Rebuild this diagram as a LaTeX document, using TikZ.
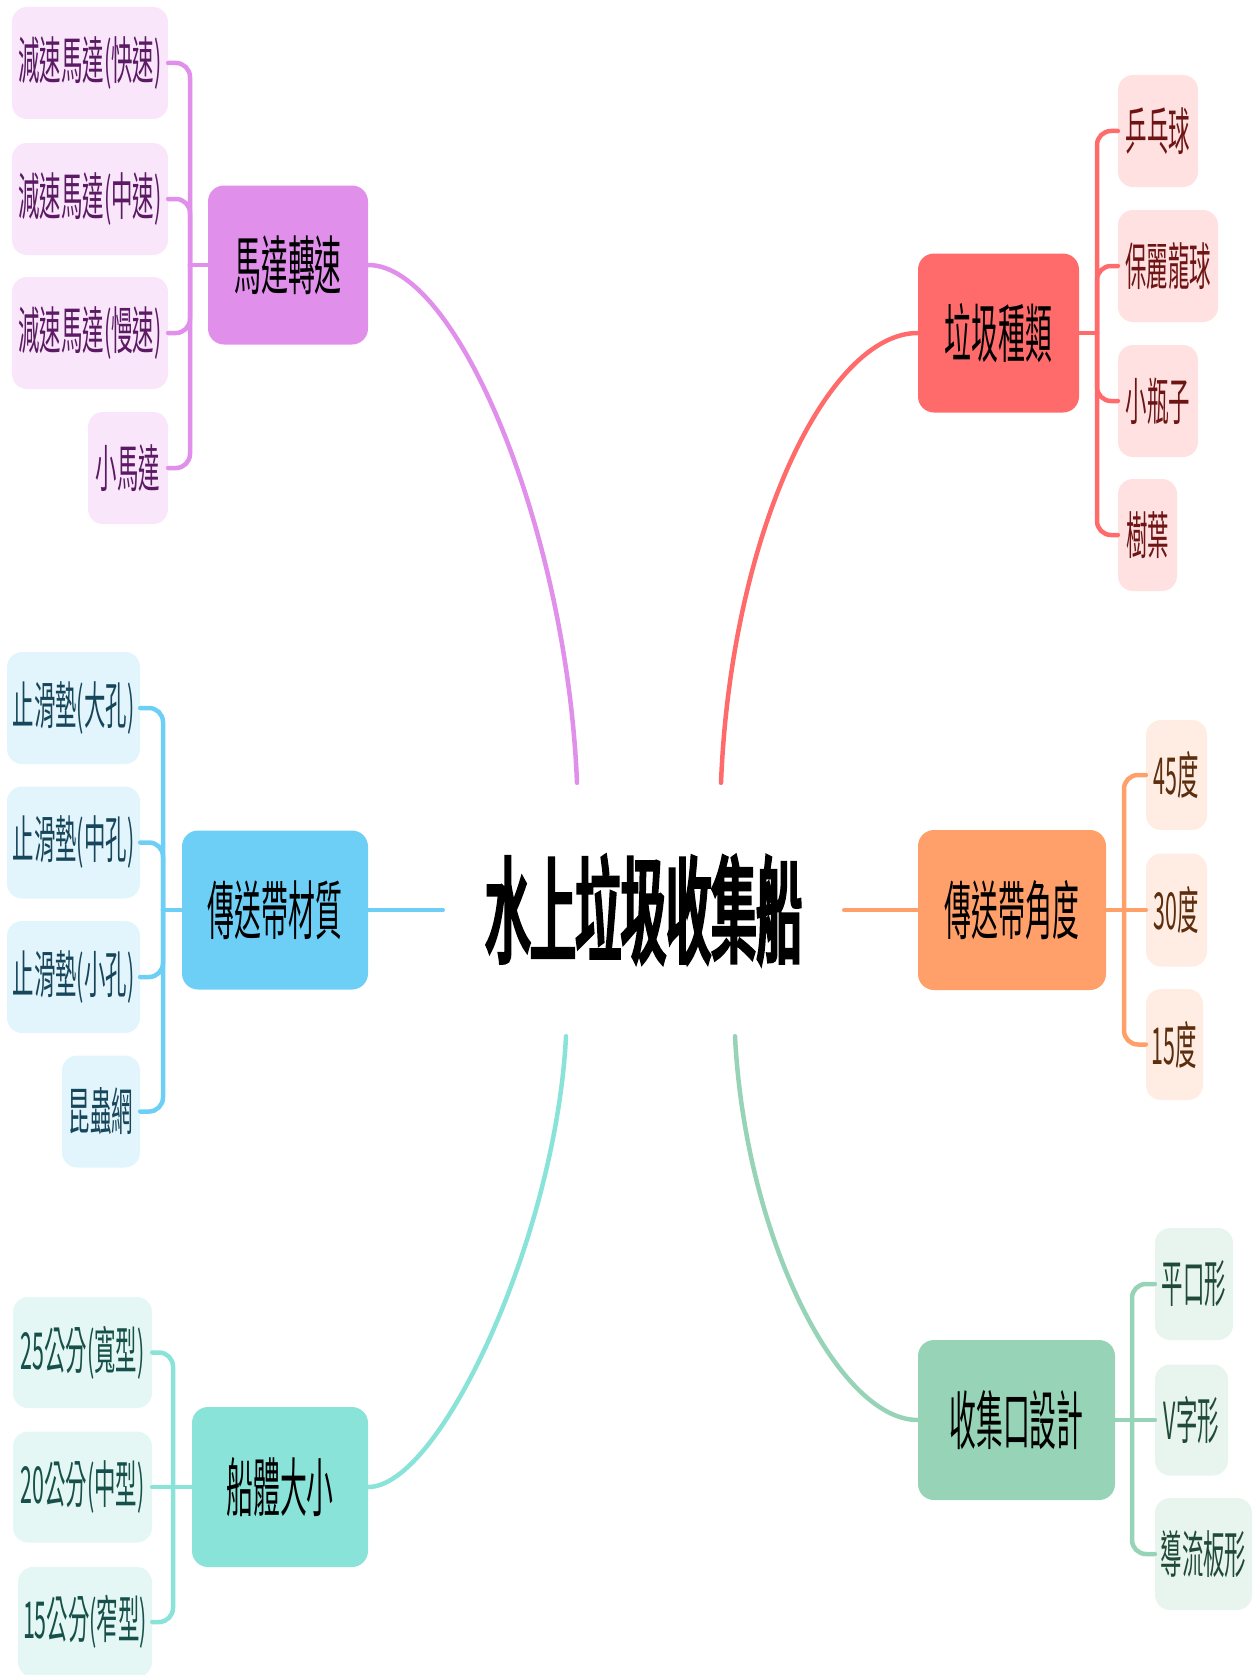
\documentclass[tikz,border=0pt]{standalone}
\usepackage{fontspec}
\newfontfamily\cjkM[FakeStretch=0.42]{Noto Sans CJK TC}
\newfontfamily\cjkT[FakeStretch=0.39,FakeBold=3]{Noto Sans CJK TC}
\usetikzlibrary{calc}
\definecolor{pMain}{HTML}{E08FEB}
\definecolor{pSub}{HTML}{F9E6FB}
\definecolor{pTxt}{HTML}{5B1A63}
\definecolor{rMain}{HTML}{FF6B6B}
\definecolor{rSub}{HTML}{FFE1E1}
\definecolor{rTxt}{HTML}{6E1414}
\definecolor{bMain}{HTML}{6DCFF6}
\definecolor{bSub}{HTML}{E2F5FD}
\definecolor{bTxt}{HTML}{17465A}
\definecolor{oMain}{HTML}{FFA06B}
\definecolor{oSub}{HTML}{FFEDE3}
\definecolor{oTxt}{HTML}{5C2E0E}
\definecolor{tMain}{HTML}{8AE3D8}
\definecolor{tSub}{HTML}{E4F7F4}
\definecolor{tTxt}{HTML}{17504A}
\definecolor{gMain}{HTML}{97D3B6}
\definecolor{gSub}{HTML}{E8F5EE}
\definecolor{gTxt}{HTML}{1F4A38}
\tikzset{
  mainbox/.style={rounded corners=16pt, inner sep=0pt, minimum height=159pt, text=black,
    font=\cjkM\fontsize{64}{70}\selectfont},
  subbox/.style={rounded corners=15pt, inner sep=0pt, minimum height=112pt,
    font=\cjkM\fontsize{51}{56}\selectfont},
  conn/.style={line width=4.5pt, line cap=round},
  elbow/.style={conn, rounded corners=14pt},
}
\begin{document}
\begin{tikzpicture}[x=1pt,y=-1pt]
\useasboundingbox (0,0) rectangle (1258,1675);

% root
\node[inner sep=0pt, minimum width=401pt, minimum height=253pt,
  font=\cjkT\fontsize{116}{120}\selectfont] (root) at (643.5,909.5) {\raisebox{-8pt}{水上垃圾收集船}};

% ---------- purple ----------
\node[mainbox, fill=pMain, minimum width=160pt] (m1) at (288,265) {馬達轉速};
\node[subbox, fill=pSub, text=pTxt, minimum width=156pt] (p1) at (90,63) {減速馬達(快速)};
\node[subbox, fill=pSub, text=pTxt, minimum width=156pt] (p2) at (90,199) {減速馬達(中速)};
\node[subbox, fill=pSub, text=pTxt, minimum width=156pt] (p3) at (90,333) {減速馬達(慢速)};
\node[subbox, fill=pSub, text=pTxt, minimum width=80pt] (p4) at (128,468) {小馬達};
\coordinate (jP) at (190,265);
\draw[conn, pMain] (m1.west) -- (jP);
\foreach \c in {p1,p2,p3,p4} \draw[elbow, pMain] (jP) |- (\c.east);
\draw[conn, pMain] (m1.east) .. controls +(90,0) and +(-10,-250) .. ([xshift=-66.5pt]root.north);

% ---------- red ----------
\node[mainbox, fill=rMain, minimum width=161pt] (m2) at (998.5,333) {垃圾種類};
\node[subbox, fill=rSub, text=rTxt, minimum width=80pt] (r1) at (1158,131) {乒乓球};
\node[subbox, fill=rSub, text=rTxt, minimum width=100pt] (r2) at (1168,266) {保麗龍球};
\node[subbox, fill=rSub, text=rTxt, minimum width=80pt] (r3) at (1158,401) {小瓶子};
\node[subbox, fill=rSub, text=rTxt, minimum width=59pt] (r4) at (1147.5,535) {樹葉};
\coordinate (jR) at (1097,333);
\draw[conn, rMain] (m2.east) -- (jR);
\foreach \c in {r1,r2,r3,r4} \draw[elbow, rMain] (jR) |- (\c.west);
\draw[conn, rMain] (m2.west) .. controls +(-90,0) and +(10,-250) .. ([xshift=77.5pt]root.north);

% ---------- blue ----------
\node[mainbox, fill=bMain, minimum width=186pt] (m3) at (275,910) {傳送帶材質};
\node[subbox, fill=bSub, text=bTxt, minimum width=133pt] (b1) at (73.5,708) {止滑墊(大孔)};
\node[subbox, fill=bSub, text=bTxt, minimum width=133pt] (b2) at (73.5,842.5) {止滑墊(中孔)};
\node[subbox, fill=bSub, text=bTxt, minimum width=133pt] (b3) at (73.5,977) {止滑墊(小孔)};
\node[subbox, fill=bSub, text=bTxt, minimum width=78pt] (b4) at (101,1111.5) {昆蟲網};
\coordinate (jB) at (163,910);
\draw[conn, bMain] (m3.west) -- (jB);
\foreach \c in {b1,b2,b3,b4} \draw[elbow, bMain] (jB) |- (\c.east);
\draw[conn, bMain] (m3.east) -- (m3.east -| root.west);

% ---------- orange ----------
\node[mainbox, fill=oMain, minimum width=188pt, minimum height=160pt] (m4) at (1012,910) {傳送帶角度};
\node[subbox, fill=oSub, text=oTxt, minimum width=61pt, minimum height=110pt] (o1) at (1176.5,775) {45度};
\node[subbox, fill=oSub, text=oTxt, minimum width=61pt, minimum height=113pt] (o2) at (1176.5,910) {30度};
\node[subbox, fill=oSub, text=oTxt, minimum width=57pt, minimum height=111pt] (o3) at (1174.5,1044.5) {15度};
\coordinate (jO) at (1124,910);
\draw[conn, oMain] (m4.east) -- (o2.west);
\foreach \c in {o1,o3} \draw[elbow, oMain] (jO) |- (\c.west);
\draw[conn, oMain] (m4.west) -- (m4.west -| root.east);

% ---------- teal ----------
\node[mainbox, fill=tMain, minimum width=176pt, minimum height=160pt] (m5) at (280,1487) {船體大小};
\node[subbox, fill=tSub, text=tTxt, minimum width=139pt, minimum height=111pt] (t1) at (82.5,1352.5) {25公分(寬型)};
\node[subbox, fill=tSub, text=tTxt, minimum width=139pt, minimum height=111pt] (t2) at (82.5,1487) {20公分(中型)};
\node[subbox, fill=tSub, text=tTxt, minimum width=134pt, minimum height=110pt] (t3) at (85,1622) {15公分(窄型)};
\coordinate (jT) at (173,1487);
\draw[conn, tMain] (m5.west) -- (t2.east);
\foreach \c in {t1,t3} \draw[elbow, tMain] (jT) |- (\c.east);
\draw[conn, tMain] (m5.east) .. controls +(72,0) and +(-10,200) .. ([xshift=-77.5pt]root.south);

% ---------- green ----------
\node[mainbox, fill=gMain, minimum width=197pt, minimum height=160pt] (m6) at (1016.5,1420) {收集口設計};
\node[subbox, fill=gSub, text=gTxt, minimum width=78pt, minimum height=112pt] (g1) at (1194,1284) {平口形};
\node[subbox, fill=gSub, text=gTxt, minimum width=73pt, minimum height=111pt] (g2) at (1191.5,1420) {V字形};
\node[subbox, fill=gSub, text=gTxt, minimum width=97pt, minimum height=112pt] (g3) at (1203.5,1554) {導流板形};
\coordinate (jG) at (1132,1420);
\draw[conn, gMain] (m6.east) -- (g2.west);
\foreach \c in {g1,g3} \draw[elbow, gMain] (jG) |- (\c.west);
\draw[conn, gMain] (m6.west) .. controls +(-80,0) and +(10,200) .. ([xshift=91.5pt]root.south);
\end{tikzpicture}
\end{document}
